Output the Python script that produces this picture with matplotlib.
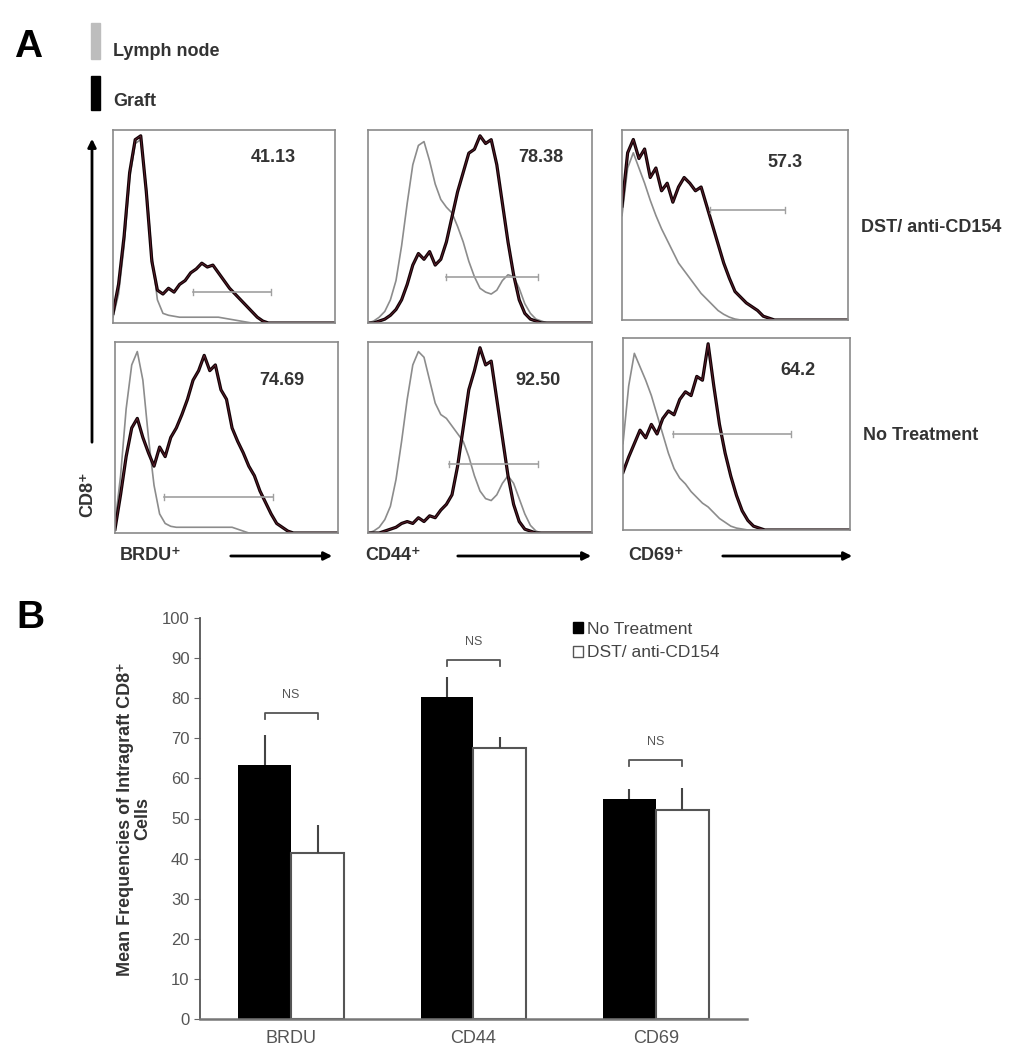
import matplotlib
matplotlib.use("Agg")
import matplotlib.pyplot as plt
import numpy as np
from matplotlib.patches import Patch, Rectangle

plt.rcParams['font.family'] = ['Liberation Sans', 'DejaVu Sans']

W, H = 1029, 1050

# ---- panel A: histogram traces (fraction of panel height, sampled every 0.025 of the x range)
grid = np.linspace(0, 1, 41)

brdu_dst_ln = [0.03, 0.15, 0.4, 0.75, 0.93, 0.95, 0.7, 0.35, 0.12, 0.05, 0.04, 0.035, 0.03, 0.03, 0.03, 0.03,
               0.03, 0.03, 0.03, 0.03, 0.025, 0.02, 0.015, 0.01, 0.005, 0, 0, 0, 0, 0, 0, 0, 0, 0, 0, 0, 0, 0, 0, 0, 0]
brdu_dst_gr = [0.05, 0.2, 0.45, 0.78, 0.95, 0.97, 0.68, 0.32, 0.17, 0.15, 0.18, 0.16, 0.2, 0.22, 0.26, 0.28,
               0.31, 0.29, 0.3, 0.26, 0.22, 0.18, 0.15, 0.12, 0.09, 0.06, 0.03, 0.01, 0, 0, 0, 0, 0, 0, 0, 0, 0, 0, 0, 0, 0]
cd44_dst_ln = [0, 0.01, 0.03, 0.06, 0.12, 0.22, 0.4, 0.62, 0.82, 0.92, 0.94, 0.84, 0.72, 0.64, 0.6, 0.57,
               0.5, 0.42, 0.32, 0.24, 0.18, 0.16, 0.15, 0.17, 0.22, 0.25, 0.24, 0.18, 0.1, 0.05, 0.02, 0.01,
               0, 0, 0, 0, 0, 0, 0, 0, 0]
cd44_dst_gr = [0, 0, 0.01, 0.02, 0.04, 0.07, 0.12, 0.2, 0.3, 0.36, 0.33, 0.37, 0.3, 0.33, 0.42, 0.55,
               0.68, 0.78, 0.88, 0.9, 0.97, 0.93, 0.95, 0.82, 0.62, 0.42, 0.25, 0.12, 0.05, 0.02, 0.01, 0,
               0, 0, 0, 0, 0, 0, 0, 0, 0]
cd69_dst_ln = [0.55, 0.8, 0.88, 0.8, 0.72, 0.63, 0.55, 0.48, 0.42, 0.36, 0.3, 0.26, 0.22, 0.18, 0.14, 0.11,
               0.08, 0.05, 0.03, 0.015, 0.005, 0, 0, 0, 0, 0, 0, 0, 0, 0, 0, 0, 0, 0, 0, 0, 0, 0, 0, 0, 0]
cd69_dst_gr = [0.6, 0.88, 0.95, 0.85, 0.9, 0.75, 0.8, 0.68, 0.72, 0.62, 0.7, 0.75, 0.72, 0.68, 0.7, 0.6,
               0.5, 0.4, 0.3, 0.22, 0.15, 0.12, 0.09, 0.07, 0.05, 0.02, 0.01, 0, 0, 0, 0, 0, 0, 0, 0, 0,
               0, 0, 0, 0, 0]
brdu_nt_ln = [0.05, 0.3, 0.65, 0.88, 0.95, 0.8, 0.5, 0.25, 0.1, 0.05, 0.035, 0.03, 0.03, 0.03, 0.03, 0.03,
              0.03, 0.03, 0.03, 0.03, 0.03, 0.03, 0.02, 0.01, 0, 0, 0, 0, 0, 0, 0, 0, 0, 0, 0, 0, 0, 0, 0, 0, 0]
brdu_nt_gr = [0.02, 0.2, 0.4, 0.55, 0.6, 0.5, 0.42, 0.35, 0.45, 0.4, 0.5, 0.55, 0.62, 0.7, 0.8, 0.85,
              0.93, 0.85, 0.88, 0.75, 0.7, 0.55, 0.48, 0.42, 0.35, 0.3, 0.22, 0.16, 0.1, 0.05, 0.03, 0.01,
              0, 0, 0, 0, 0, 0, 0, 0, 0]
cd44_nt_ln = [0, 0.01, 0.03, 0.07, 0.14, 0.28, 0.48, 0.7, 0.88, 0.95, 0.92, 0.8, 0.68, 0.62, 0.6, 0.56,
              0.52, 0.48, 0.4, 0.3, 0.22, 0.18, 0.17, 0.2, 0.26, 0.3, 0.26, 0.18, 0.1, 0.04, 0.01, 0,
              0, 0, 0, 0, 0, 0, 0, 0, 0]
cd44_nt_gr = [0, 0, 0, 0.01, 0.02, 0.03, 0.05, 0.06, 0.05, 0.08, 0.06, 0.09, 0.08, 0.12, 0.15, 0.2,
              0.35, 0.55, 0.75, 0.85, 0.97, 0.88, 0.9, 0.7, 0.5, 0.3, 0.15, 0.06, 0.02, 0.01, 0, 0,
              0, 0, 0, 0, 0, 0, 0, 0, 0]
cd69_nt_ln = [0.45, 0.75, 0.92, 0.85, 0.78, 0.7, 0.6, 0.5, 0.4, 0.32, 0.27, 0.24, 0.2, 0.17, 0.14, 0.12,
              0.09, 0.06, 0.04, 0.02, 0.01, 0.005, 0, 0, 0, 0, 0, 0, 0, 0, 0, 0, 0, 0, 0, 0, 0, 0, 0, 0, 0]
cd69_nt_gr = [0.3, 0.38, 0.45, 0.52, 0.48, 0.55, 0.5, 0.58, 0.62, 0.6, 0.68, 0.72, 0.7, 0.8, 0.78, 0.97,
              0.75, 0.55, 0.4, 0.28, 0.18, 0.1, 0.05, 0.02, 0.01, 0, 0, 0, 0, 0, 0, 0, 0, 0, 0, 0, 0, 0,
              0, 0, 0]

percents = ['41.13', '78.38', '57.3', '74.69', '92.50', '64.2']
# gate bars: start, end, level (panel fractions)
gates = [(0.36, 0.71, 0.16), (0.35, 0.76, 0.24), (0.39, 0.72, 0.58),
         (0.22, 0.71, 0.19), (0.36, 0.76, 0.36), (0.22, 0.74, 0.50)]

# ---- panel B: bar chart
markers = ['BRDU', 'CD44', 'CD69']
no_treatment = [63.3, 80.2, 54.9]
no_treatment_err = [7.5, 5.2, 2.5]
dst = [41.3, 67.7, 52.2]
dst_err = [7.1, 2.7, 5.5]
ns_level = [76.3, 89.5, 64.6]

fig = plt.figure(figsize=(W / 100, H / 100), dpi=100)


def px_axes(l, t, r, b):
    return fig.add_axes([l / W, 1 - b / H, (r - l) / W, (b - t) / H])


# overlay in pixel coordinates for the free text and arrows
ov = fig.add_axes([0, 0, 1, 1])
ov.set_xlim(0, W)
ov.set_ylim(H, 0)
ov.axis('off')

boxes = [(113, 130, 335, 323), (368, 130, 592, 323), (622, 130, 848, 320),
         (115, 342, 338, 533), (368, 342, 592, 533), (623, 338, 850, 530)]
traces = [(brdu_dst_ln, brdu_dst_gr), (cd44_dst_ln, cd44_dst_gr), (cd69_dst_ln, cd69_dst_gr),
          (brdu_nt_ln, brdu_nt_gr), (cd44_nt_ln, cd44_nt_gr), (cd69_nt_ln, cd69_nt_gr)]
pct_pos = [(0.72, 0.86), (0.77, 0.86), (0.72, 0.83), (0.75, 0.80), (0.76, 0.80), (0.77, 0.83)]

for i, box in enumerate(boxes):
    ax = px_axes(*box)
    ln, gr = traces[i]
    ax.plot(grid, ln, color='#8c8c8c', lw=1.2)
    ax.plot(grid, gr, color='#120306', lw=2.3)
    ax.plot(grid, gr, color='#6e2434', lw=0.5)
    g0, g1, gy = gates[i]
    ax.plot([g0, g1], [gy, gy], color='#a0a0a0', lw=1.2)
    ax.plot([g0, g0], [gy - 0.015, gy + 0.015], color='#a0a0a0', lw=1)
    ax.plot([g1, g1], [gy - 0.015, gy + 0.015], color='#a0a0a0', lw=1)
    ax.text(pct_pos[i][0], pct_pos[i][1], percents[i], transform=ax.transAxes, ha='center', va='center',
            fontsize=13, fontweight='bold', color='#333333')
    ax.set_xlim(0, 1)
    ax.set_ylim(0, 1.0)
    ax.set_xticks([])
    ax.set_yticks([])
    for s in ax.spines.values():
        s.set_color('#8a8a8a')
        s.set_linewidth(1.2)

# panel A decorations
ov.text(28, 47, 'A', fontsize=28, fontweight='bold', ha='center', va='center')
ov.add_patch(Rectangle((91, 23), 9, 36, color='#bdbdbd'))
ov.add_patch(Rectangle((91, 76), 9, 34, color='black'))
ov.text(113, 52, 'Lymph node', fontsize=13, fontweight='bold', va='center', color='#333333')
ov.text(113, 101, 'Graft', fontsize=13, fontweight='bold', va='center', color='#333333')

ov.annotate('', xy=(92, 136), xytext=(92, 445),
            arrowprops=dict(arrowstyle='-|>', color='black', lw=2, mutation_scale=12))
ov.text(88, 494, 'CD8⁺', rotation=90, fontsize=13, fontweight='bold', ha='center', va='center', color='#333333')

for lab, lx, a0, a1 in [('BRDU⁺', 120, 228, 335), ('CD44⁺', 365, 455, 594), ('CD69⁺', 628, 720, 855)]:
    ov.text(lx, 555, lab, fontsize=13, fontweight='bold', va='center', color='#333333')
    ov.annotate('', xy=(a1, 556), xytext=(a0, 556),
                arrowprops=dict(arrowstyle='-|>', color='black', lw=2, mutation_scale=12))

ov.text(861, 228, 'DST/ anti-CD154', fontsize=13, fontweight='bold', va='center', color='#333333')
ov.text(863, 435, 'No Treatment', fontsize=13, fontweight='bold', va='center', color='#333333')

# panel B
ov.text(30, 618, 'B', fontsize=28, fontweight='bold', ha='center', va='center')
ov.text(134, 819, 'Mean Frequencies of Intragraft CD8⁺\nCells', rotation=90, fontsize=13,
        fontweight='bold', ha='center', va='center', multialignment='center', linespacing=1.05,
        color='#333333')

bx = px_axes(200, 618, 747, 1019)
x = np.arange(len(markers))
w = 0.29
bx.bar(x - w / 2, no_treatment, w, color='black', label='No Treatment')
bx.bar(x + w / 2, dst, w, facecolor='white', edgecolor='#555555', lw=1.5, label='DST/ anti-CD154')
bx.errorbar(x - w / 2, no_treatment, yerr=[np.zeros(3), no_treatment_err], fmt='none', ecolor='#444444',
            elinewidth=1.5, capsize=0)
bx.errorbar(x + w / 2, dst, yerr=[np.zeros(3), dst_err], fmt='none', ecolor='#444444',
            elinewidth=1.5, capsize=0)
for i in range(len(markers)):
    y = ns_level[i]
    bx.plot([x[i] - w / 2, x[i] - w / 2, x[i] + w / 2, x[i] + w / 2], [y - 1.5, y, y, y - 1.5],
            color='#555555', lw=1.3)
    bx.text(x[i], y + 3, 'NS', ha='center', va='bottom', fontsize=9, color='#555555')

bx.set_xlim(-0.5, 2.5)
bx.set_ylim(0, 100)
bx.set_yticks(np.arange(0, 101, 10))
bx.set_xticks(x)
bx.set_xticklabels(markers, fontsize=13, color='#555555')
bx.tick_params(axis='y', labelsize=12, labelcolor='#555555', color='#666666', length=4)
bx.tick_params(axis='x', length=0, pad=8)
for s in ['top', 'right']:
    bx.spines[s].set_visible(False)
bx.spines['left'].set_color('#555555')
bx.spines['bottom'].set_color('#777777')
bx.spines['left'].set_linewidth(1.3)
bx.spines['bottom'].set_linewidth(1.8)

handles = [Patch(facecolor='black', edgecolor='black'),
           Patch(facecolor='white', edgecolor='#555555')]
fig.legend(handles, ['No Treatment', 'DST/ anti-CD154'], loc='upper left',
           bbox_to_anchor=(557 / W, 1 - 606 / H), frameon=False, fontsize=12.5,
           handlelength=0.6, handleheight=0.6, handletextpad=0.2, labelspacing=0.5, labelcolor='#444444')

fig.savefig('out.png', dpi=100)
